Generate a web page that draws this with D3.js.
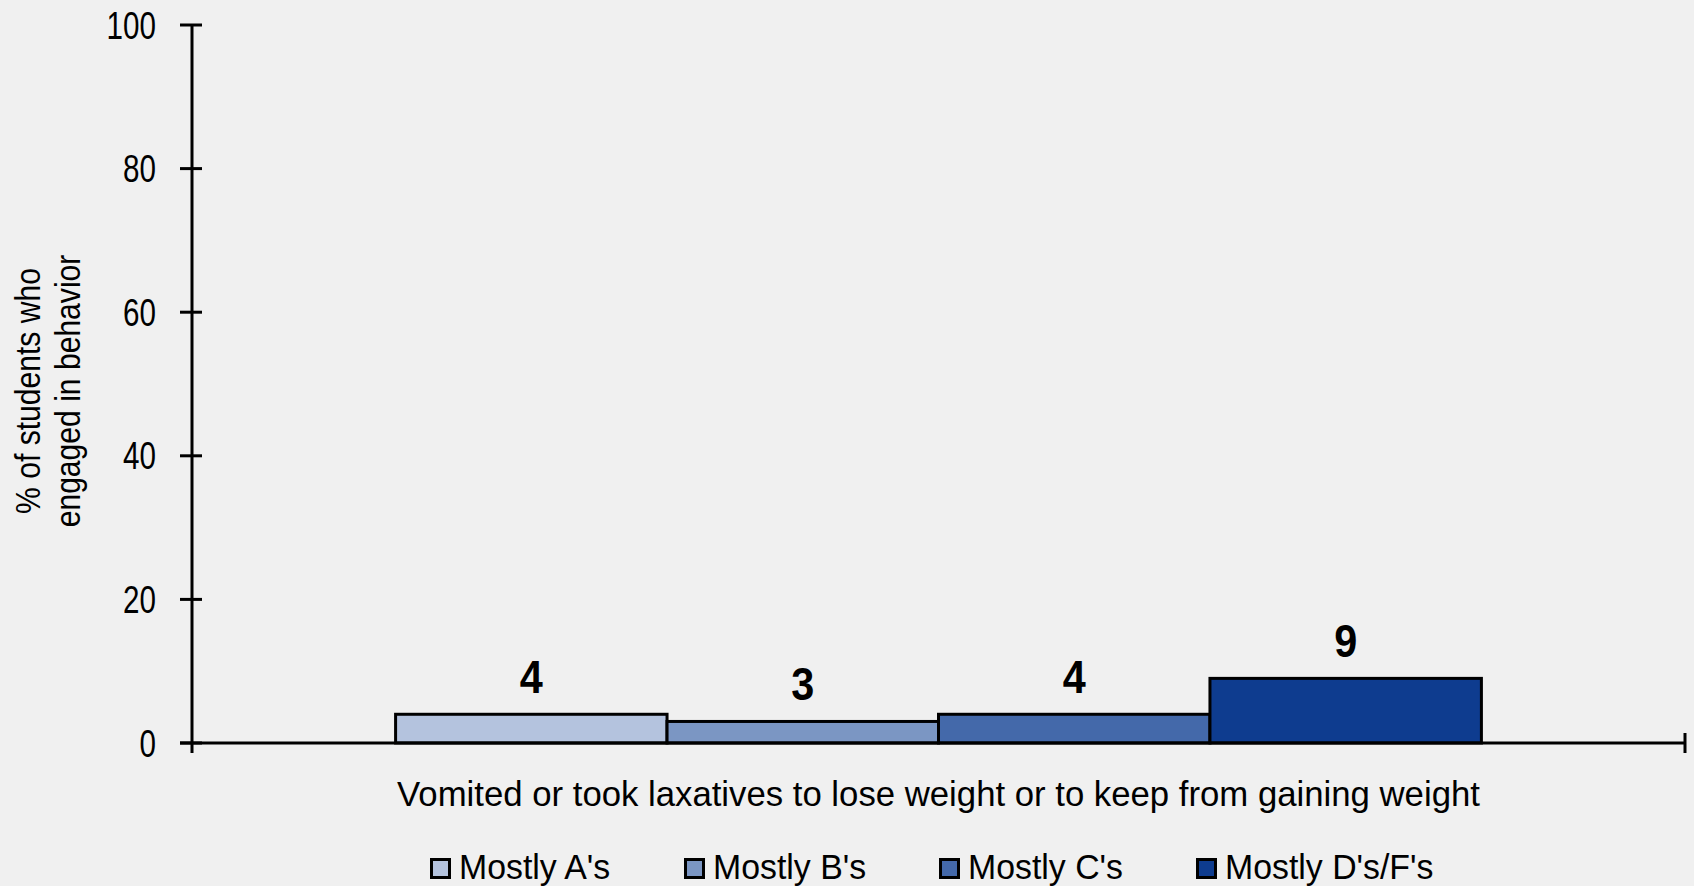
<!DOCTYPE html>
<html>
<head>
<meta charset="utf-8">
<script src="https://cdn.jsdelivr.net/npm/d3@7/dist/d3.min.js"></script>
<style>
  html, body { margin: 0; padding: 0; background: #f0f0f0; }
  svg { display: block; }
  text { font-family: "Liberation Sans", Arial, sans-serif; fill: #000; }
</style>
</head>
<body>
<svg id="chart" width="1694" height="886"></svg>
<script>
// Chart data
const categories = ["Vomited or took laxatives to lose weight or to keep from gaining weight"];
const seriesNames = ["Mostly A's", "Mostly B's", "Mostly C's", "Mostly D's/F's"];
const seriesValues = [4, 3, 4, 9];
const seriesColors = ["#b4c3de", "#7b96c3", "#4469aa", "#0e3c8f"];
const yTicks = [0, 20, 40, 60, 80, 100];
const yTitleLines = ["% of students who", "engaged in behavior"];

const svg = d3.select("#chart");
const W = 1694, H = 886;
svg.append("rect").attr("width", W).attr("height", H).attr("fill", "#f0f0f0");

const plot = { left: 192, right: 1685, top: 25, bottom: 743 };

const y = d3.scaleLinear().domain([0, 100]).range([plot.bottom, plot.top]);
const x0 = d3.scaleBand().domain(categories).range([plot.left, plot.right]).padding(0);
const x1 = d3.scaleBand().domain(seriesNames).range([0, x0.bandwidth()])
  .paddingInner(0).paddingOuter(0.75);

// Condensed text helper: places text at (x, y), squeezed horizontally by sx
function condensedText(parent, x, yPos, sx, str, opts) {
  const g = parent.append("g").attr("transform", `translate(${x},${yPos}) scale(${sx},1)`);
  const t = g.append("text")
    .attr("text-anchor", opts.anchor || "start")
    .attr("font-size", opts.size)
    .attr("font-weight", opts.weight || "normal")
    .attr("dy", opts.dy || 0)
    .text(str);
  return t;
}

// Bars
const group = svg.append("g").attr("transform", `translate(${x0(categories[0])},0)`);
const data = seriesNames.map((s, i) => ({ name: s, value: seriesValues[i], color: seriesColors[i] }));

group.selectAll("rect.bar").data(data).enter().append("rect")
  .attr("class", "bar")
  .attr("x", d => x1(d.name))
  .attr("y", d => y(d.value))
  .attr("width", x1.bandwidth())
  .attr("height", d => y(0) - y(d.value))
  .attr("fill", d => d.color)
  .attr("stroke", "#000")
  .attr("stroke-width", 3);

// Value labels
data.forEach(d => {
  condensedText(group, x1(d.name) + x1.bandwidth() / 2, y(d.value) - 21, 0.9, d.value,
    { anchor: "middle", size: 46, weight: "bold" });
});

// Y axis ticks and labels
const gy = svg.append("g").attr("transform", `translate(${plot.left},0)`);
yTicks.forEach(t => {
  gy.append("line")
    .attr("x1", -12).attr("x2", 10)
    .attr("y1", y(t)).attr("y2", y(t))
    .attr("stroke", "#000").attr("stroke-width", 3);
  condensedText(gy, -36, y(t), 0.76, t, { anchor: "end", size: 39, dy: "0.35em" });
});
gy.append("line")
  .attr("x1", 0).attr("x2", 0)
  .attr("y1", y(100)).attr("y2", plot.bottom + 10)
  .attr("stroke", "#000").attr("stroke-width", 3);

// X axis
svg.append("line")
  .attr("x1", plot.left - 12).attr("x2", plot.right)
  .attr("y1", plot.bottom).attr("y2", plot.bottom)
  .attr("stroke", "#000").attr("stroke-width", 3);
svg.append("line")
  .attr("x1", plot.right).attr("x2", plot.right)
  .attr("y1", plot.bottom - 10).attr("y2", plot.bottom + 10)
  .attr("stroke", "#000").attr("stroke-width", 3);

// Category label
condensedText(svg, x0(categories[0]) + x0.bandwidth() / 2, 806, 0.965, categories[0],
  { anchor: "middle", size: 36 });

// Y axis title (two lines, rotated)
const yTitle = svg.append("text")
  .attr("transform", "translate(0,391) rotate(-90) scale(0.86,1)")
  .attr("text-anchor", "middle")
  .attr("font-size", 35);
yTitle.selectAll("tspan").data(yTitleLines).enter().append("tspan")
  .attr("x", 0)
  .attr("y", (d, i) => i === 0 ? 40 : 80)
  .text(d => d);

// Legend
const legendX = [430, 684, 939, 1196];
const legend = svg.append("g");
data.forEach((d, i) => {
  const item = legend.append("g").attr("transform", `translate(${legendX[i]},858)`);
  item.append("rect")
    .attr("x", 1.5).attr("y", 1.5)
    .attr("width", 18).attr("height", 18)
    .attr("fill", d.color)
    .attr("stroke", "#000").attr("stroke-width", 3);
  condensedText(item, 29, 21, 0.94, d.name, { size: 36 });
});
</script>
</body>
</html>
